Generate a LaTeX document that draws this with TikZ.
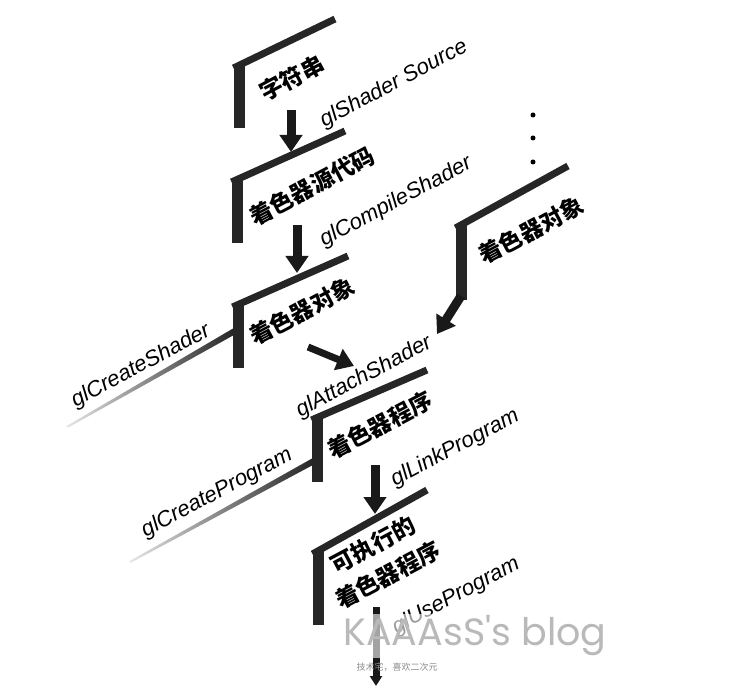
\documentclass[tikz,border=0pt]{standalone}
\usepackage{fontspec}
\setmainfont{Liberation Sans}
\newfontfamily\cjk{Noto Sans CJK SC}
\newfontfamily\wmfont{Poppins}
\usetikzlibrary{arrows.meta}

\begin{document}
\begin{tikzpicture}[x=1pt,y=-1pt,line cap=butt,line join=miter,
		>={Triangle[width=22pt,length=17pt]}]
		\tikzset{bar/.style={line width=11pt,black!85},
			rim/.style={line width=7pt,black!85},
			flow/.style={->,line width=9pt,black!90},
			cn/.style={font=\cjk\bfseries\fontsize{23}{26}\selectfont,rotate=28,inner sep=0pt},
			fn/.style={font=\itshape\fontsize{22}{24}\selectfont,rotate=28,inner sep=0pt},
			tail/.style={left color=gray!20,right color=black!85,draw=none}
		}
		\useasboundingbox (0,0) rectangle (740,687);
		% the cards: bar x / corner y / rim end / foot y
		\foreach \cx/\cy/\ex/\ey/\fy in {239/68/335/19/128, 237/182/345/131/243,
				238/307/348/256/368, 317/420/427/370/482, 318/554/427/490/625, 461/228/568/166/300}{
			\draw[bar] (\cx,\fy)--(\cx,\cy-3);
			\draw[rim] (\cx-5.5,\cy)--(\ex,\ey);
		}
		% the create lines
		\shade[tail] (233,328.5)--(233,335.5)--(67.5,427.9)--(66.5,426.1)--cycle;
		\shade[tail] (312,458.5)--(312,465.5)--(130.5,562.9)--(129.5,561.1)--cycle;
		\foreach \y in {115,138,162} \fill (533,\y) circle(2.5);
		% labels
		\node[cn] (str) at (292,78) {字符串};
		\node[fn] (src) at (394,84) {glShader Source};
		\node[cn] (code) at (312,186) {着色器源代码};
		\node[fn] (comp) at (396,202) {glCompileShader};
		\node[cn] (obj) at (302,311) {着色器对象};
		\node[fn] (crs) at (141,366) {glCreateShader};
		\node[cn] (objb) at (531,230) {着色器对象};
		\node[fn] (att) at (364,377) {glAttachShader};
		\node[cn] (prog) at (380,425) {着色器程序};
		\node[fn] (crp) at (217,493) {glCreateProgram};
		\node[fn] (lnk) at (455,448) {glLinkProgram};
		\node[cn] (exea) at (373,545) {可执行的};
		\node[cn] (exeb) at (388,575) {着色器程序};
		\node[fn] (use) at (456,596) {glUseProgram};
		% arrows
		\coordinate (a1) at (291,110); \coordinate (b1) at (291,152);
		\coordinate (a2) at (297,225); \coordinate (b2) at (297,273);
		\coordinate (a3) at (308,347); \coordinate (b3) at (354,366);
		\coordinate (a4) at (375,465); \coordinate (b4) at (375,514);
		\coordinate (a5) at (376,607); \coordinate (b5) at (376,686);
		\coordinate (aR) at (461,296); \coordinate (bR) at (437,334);
		\draw[flow] (a1)--(b1);
		\draw[flow] (a2)--(b2);
		\draw[flow,line width=7pt] (a3)--(b3);
		\draw[flow] (a4)--(b4);
		\draw[flow,line width=7pt,>={Triangle[width=12pt,length=10pt]}] (a5)--(b5);
		\draw[flow] (aR)--(bR);
		% watermark
		\node[fill=white,fill opacity=0.6,text opacity=1,text=gray!55,inner sep=2pt,
			font=\wmfont\fontsize{38}{40}\selectfont] (wm) at (475,636) {KAAAsS's blog};
		\node[text=gray!90,inner sep=1pt,font=\cjk\fontsize{9}{10}\selectfont] (wms) at (397,667) {技术宅，喜欢二次元};
	\end{tikzpicture}
\end{document}
